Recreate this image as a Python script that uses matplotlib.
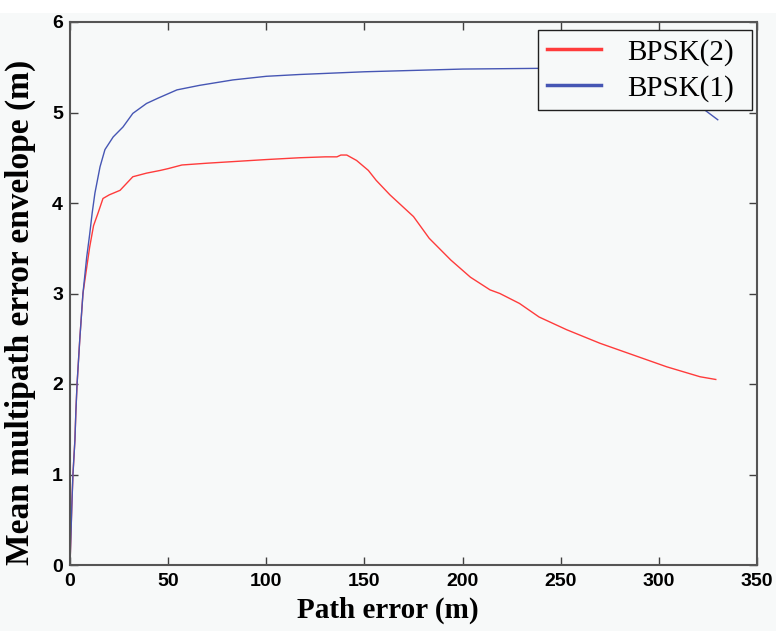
import numpy as np
import matplotlib
matplotlib.use('Agg')
import matplotlib.pyplot as plt
from matplotlib.lines import Line2D
from matplotlib.patches import Rectangle

# values
x_bpsk2 = [0, 1, 1.5, 2.5, 3, 3.6, 5, 6.6, 8.6, 10, 12, 14.3, 16.8, 20, 25.5, 32, 39, 46, 50,
           57, 70, 85, 100, 117, 130, 136, 138, 141, 146, 152, 156, 163, 175, 183, 194, 204,
           214, 219, 229, 239, 253, 270, 287, 304, 321, 329]
y_bpsk2 = [0, 0.7, 1.0, 1.38, 1.7, 2.0, 2.5, 3.0, 3.3, 3.51, 3.75, 3.89, 4.05, 4.09, 4.14, 4.29,
           4.33, 4.36, 4.38, 4.42, 4.44, 4.46, 4.48, 4.5, 4.51, 4.51, 4.53, 4.53, 4.47, 4.36,
           4.25, 4.09, 3.85, 3.61, 3.37, 3.18, 3.04, 3.0, 2.89, 2.74, 2.6, 2.45, 2.32, 2.19,
           2.08, 2.05]

x_bpsk1 = [0, 1, 1.5, 2.5, 3, 3.6, 5, 6.6, 8.5, 10, 11.3, 12.7, 15.3, 17.8, 22, 27, 32, 39, 45,
           54.5, 66, 83, 100, 117, 150, 200, 250, 290, 305, 315, 322, 330]
y_bpsk1 = [0, 0.7, 1.0, 1.38, 1.7, 2.0, 2.5, 3.0, 3.4, 3.65, 3.89, 4.11, 4.4, 4.59, 4.73, 4.84,
           4.99, 5.1, 5.16, 5.25, 5.3, 5.36, 5.4, 5.42, 5.45, 5.48, 5.49, 5.5, 5.45, 5.3, 5.05,
           4.92]

labels = ['BPSK(2)', 'BPSK(1)']
colors = ['#ff3b3b', '#4656b4']
bg = '#f7f9f9'

fig = plt.figure(figsize=(7.76, 6.31), dpi=100, facecolor=bg)
fig.patches.append(Rectangle((0, 1 - 13 / 631), 1, 13 / 631, transform=fig.transFigure,
                             facecolor='white', edgecolor='none', zorder=0))
ax = fig.add_axes([70 / 776, 66 / 631, 687 / 776, 543 / 631])
ax.set_facecolor(bg)

ax.plot(x_bpsk2, y_bpsk2, color=colors[0], lw=1.0)
ax.plot(x_bpsk1, y_bpsk1, color=colors[1], lw=1.0)

ax.set_xlim(0, 350)
ax.set_ylim(0, 6)
ax.set_xticks(np.arange(0, 351, 50))
ax.set_yticks(np.arange(0, 7, 1))
ax.tick_params(direction='in', length=6, width=1, color='#404040', top=True, right=True,
               labelsize=14)
ax.tick_params(axis='x', pad=6)
ax.tick_params(axis='y', pad=5)
for lab in ax.get_xticklabels() + ax.get_yticklabels():
    lab.set_fontfamily('Liberation Sans')
    lab.set_fontweight('bold')
for s in ax.spines.values():
    s.set_color('#555555')
    s.set_linewidth(1.5)

ax.set_xlabel('Path error (m)', family='Liberation Serif', fontsize=21, fontweight='bold')
ax.xaxis.set_label_coords(0.463, -0.058)
ax.set_ylabel('Mean multipath error envelope (m)', family='Liberation Serif', fontsize=24,
              fontweight='bold')
ax.yaxis.set_label_coords(-0.05, 0.466)

handles = [Line2D([], [], color=c, lw=2.5) for c in colors]
leg = ax.legend(handles, labels, loc='upper left', mode='expand',
                bbox_to_anchor=(0.681, 0.6, 0.3115, 0.385),
                borderaxespad=0, fancybox=False, framealpha=1, facecolor=bg,
                edgecolor='#202020', prop={'family': 'Liberation Serif', 'size': 21},
                handlelength=1.87, handletextpad=0.9, borderpad=0.3, labelspacing=0.3)
leg.get_frame().set_linewidth(1.0)

fig.savefig('out.png', dpi=100, facecolor=bg)
